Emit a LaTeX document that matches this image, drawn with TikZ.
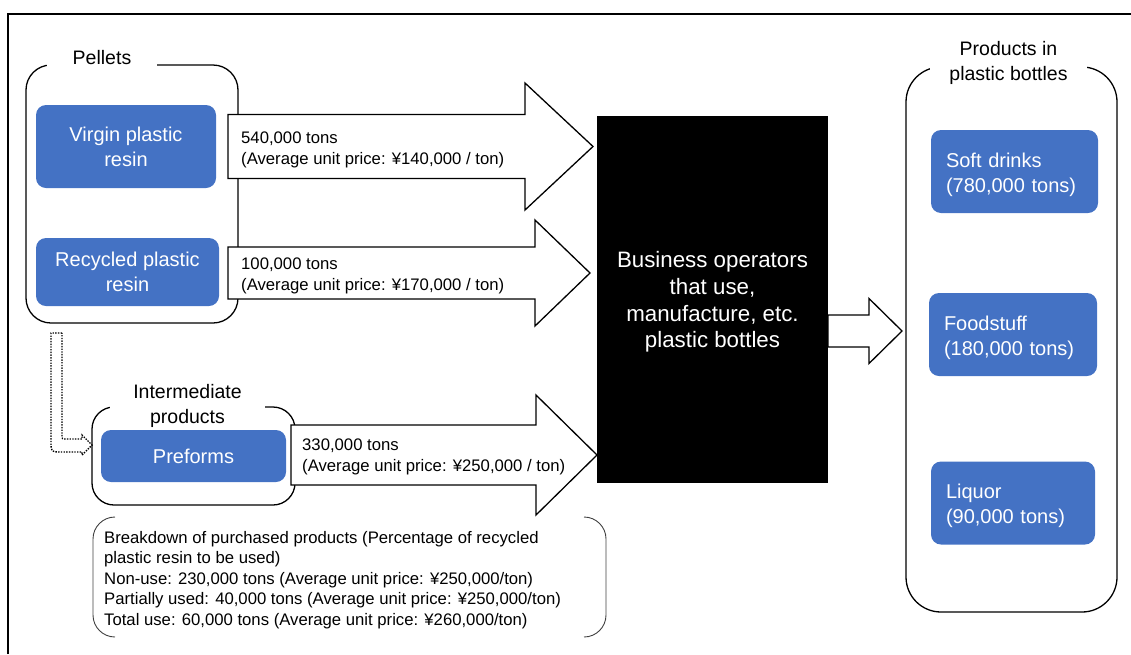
\documentclass[tikz,border=0pt]{standalone}
\usepackage{fontspec}
\setmainfont{Liberation Sans}
\definecolor{boxblue}{HTML}{4472C4}

% block arrow: x-start, x-head, x-tip, y-centre, body half-height, head half-height
\newcommand{\fatarrow}[6]{%
  \draw[arrowline] (#1,#4-#5) -- (#2,#4-#5) -- (#2,#4-#6) -- (#3,#4)
    -- (#2,#4+#6) -- (#2,#4+#5) -- (#1,#4+#5) -- cycle;}
% invisible strut that lowers a centred text block a little
\newcommand{\lowerstrut}[1]{\rule{0pt}{#1}}

\begin{document}
\begin{tikzpicture}[x=1pt,y=-1pt,
  bluebox/.style={fill=boxblue, rounded corners=10pt, text=white, inner sep=0pt,
    font=\fontsize{20}{25}\selectfont, align=center},
  prodbox/.style={fill=boxblue, rounded corners=10pt, text=white, inner xsep=15pt,
    inner ysep=0pt, font=\fontsize{20}{25}\selectfont, align=left,
    minimum height=83pt},
  grp/.style={draw, line width=1.3pt},
  grplabel/.style={fill=white, inner sep=0pt, align=center,
    font=\fontsize{19.5}{25}\selectfont},
  arrowline/.style={draw, fill=white, line width=1.3pt, line join=miter},
  arrowtxt/.style={inner sep=0pt, anchor=west, align=left,
    font=\fontsize{16.7}{21}\selectfont},
  dotline/.style={draw, line width=1.4pt, dash pattern=on 1.4pt off 1.3pt},
  bracketline/.style={draw, black!75, line width=0.9pt, rounded corners=22pt}
]
\useasboundingbox (0,0) rectangle (1131,654);

% outer frame
\draw[line width=1.5pt] (8,654) -- (8,14) -- (1131,14);

% Pellets group
\draw[grp, rounded corners=25pt] (26,65) rectangle (238,323);
\node[grplabel, minimum width=110pt, minimum height=24pt] (pelletslbl) at (102,58) {Pellets};
\node[bluebox, minimum width=180pt, minimum height=83pt] (virgin) at (126,146.5) {Virgin plastic\\resin};
\node[bluebox, minimum width=183pt, minimum height=68pt] (recycled) at (127.5,272) {Recycled plastic\\resin};

% Intermediate products group
\draw[grp, rounded corners=22pt] (92,407) rectangle (295,505);
\node[grplabel, minimum width=155pt, minimum height=50pt] (interlbl) at (187.5,406) {Intermediate\\products};
\node[bluebox, minimum width=185pt, minimum height=52pt] (preforms) at (193.5,456) {Preforms};

% dotted bent arrow from pellets to intermediate products
\draw[dotline] (62,333) -- (51,333) -- (51,442) .. controls (51,452) .. (61,452)
  -- (82,452) -- (82,455) -- (92,445) -- (82,435) -- (82,439) -- (66,439)
  .. controls (62,439) .. (62,435) -- cycle;

% Products in plastic bottles group
\draw[grp, rounded corners=35pt] (906,67) rectangle (1117,612);
\node[grplabel, minimum width=157pt, minimum height=50pt] (prodlbl) at (1008.5,62.5) {Products in\\plastic bottles};
\node[prodbox, text width=137pt] (soft) at (1014.5,171.5) {\lowerstrut{20.5pt}Soft drinks\\(780,000 tons)};
\node[prodbox, text width=138pt] (food) at (1013,334.5) {\lowerstrut{20.5pt}Foodstuff\\(180,000 tons)};
\node[prodbox, text width=134pt] (liquor) at (1013,503) {\lowerstrut{20.5pt}Liquor\\(90,000 tons)};

% flows into the business operators
\fatarrow{228}{525}{593}{146.5}{32}{63.5}
\fatarrow{228}{535}{590}{273}{26}{53}
\fatarrow{291}{536}{597}{455}{30}{60}

\node[arrowtxt] (flow1) at (241,150) {540,000 tons\\(Average unit price: ¥140,000 / ton)};
\node[arrowtxt] (flow2) at (241,276) {100,000 tons\\(Average unit price: ¥170,000 / ton)};
\node[arrowtxt] (flow3) at (302,456.5) {330,000 tons\\(Average unit price: ¥250,000 / ton)};

% business operators
\node[fill=black, text=white, minimum width=231pt, minimum height=367pt, inner sep=0pt,
  align=center, font=\fontsize{22.3}{26.7}\selectfont] (biz) at (712.5,299.5)
  {\lowerstrut{21pt}Business operators\\that use,\\manufacture, etc.\\plastic bottles};

% flow out to products
\fatarrow{828}{869}{902}{331}{16}{32.5}

% breakdown note in brackets
\draw[bracketline] (115,517) -- (93,517) -- (93,637) -- (115,637);
\draw[bracketline] (584,517) -- (606,517) -- (606,637) -- (584,637);
\node[inner sep=0pt, anchor=west, align=left, font=\fontsize{16.7}{20.5}\selectfont]
  (breakdown) at (104,580)
  {Breakdown of purchased products (Percentage of recycled\\
   plastic resin to be used)\\
   Non-use: 230,000 tons (Average unit price: ¥250,000/ton)\\
   Partially used: 40,000 tons (Average unit price: ¥250,000/ton)\\
   Total use: 60,000 tons (Average unit price: ¥260,000/ton)};
\end{tikzpicture}
\end{document}
